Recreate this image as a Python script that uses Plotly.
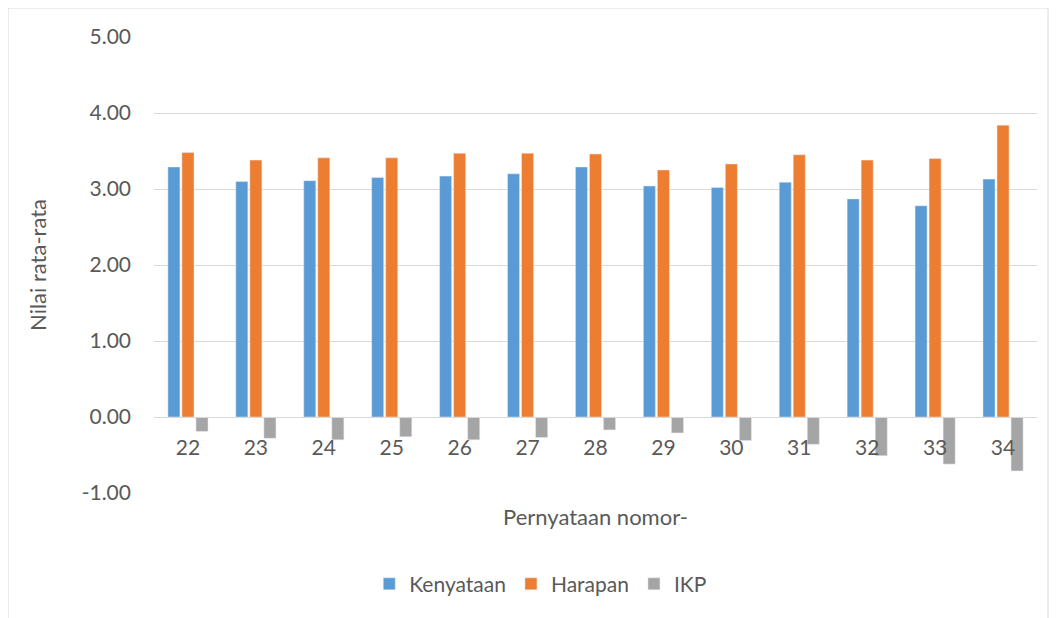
import plotly.graph_objects as go

categories = ["22", "23", "24", "25", "26", "27", "28", "29", "30", "31", "32", "33", "34"]
kenyataan = [3.29, 3.10, 3.11, 3.15, 3.17, 3.20, 3.29, 3.04, 3.02, 3.09, 2.87, 2.78, 3.13]
harapan = [3.48, 3.38, 3.41, 3.41, 3.47, 3.47, 3.46, 3.25, 3.33, 3.45, 3.38, 3.40, 3.84]
ikp = [-0.19, -0.28, -0.30, -0.26, -0.30, -0.27, -0.17, -0.21, -0.31, -0.36, -0.51, -0.62, -0.71]
y_ticks = [-1, 0, 1, 2, 3, 4, 5]
y_tick_labels = ["-1.00", "0.00", "1.00", "2.00", "3.00", "4.00", "5.00"]

FONT = "Lato"
TXT = "#595959"

fig = go.Figure()
fig.add_trace(go.Bar(name="Kenyataan", x=categories, y=kenyataan, marker_color="#5B9BD5"))
fig.add_trace(go.Bar(name="Harapan", x=categories, y=harapan, marker_color="#ED7D31"))
fig.add_trace(go.Bar(name="IKP", x=categories, y=ikp, marker_color="#A5A5A5"))

fig.update_layout(
    width=1059, height=618,
    margin=dict(l=146, r=30, t=29, b=133),
    paper_bgcolor="white", plot_bgcolor="white",
    barmode="group", bargap=0.38, bargroupgap=0.14,
    font=dict(family=FONT, color=TXT, size=21),
    showlegend=True,
    legend=dict(orientation="h", x=0.438, xanchor="center", y=-0.155, yanchor="top",
                font=dict(size=21, color=TXT), itemwidth=30),
    xaxis=dict(
        type="category", anchor="free", position=1/6,
        showline=True, linecolor="#D9D9D9", linewidth=1,
        ticks="", showgrid=False, automargin=False,
        tickfont=dict(size=21, color=TXT), ticklabelstandoff=12,
        title=dict(text="Pernyataan nomor-", font=dict(size=22, color=TXT), standoff=51),
    ),
    yaxis=dict(
        range=[-1, 5], tickvals=y_ticks, ticktext=y_tick_labels,
        showgrid=True, gridcolor="#D9D9D9", gridwidth=1,
        zeroline=False, showline=False, ticks="", automargin=False,
        tickfont=dict(size=21, color=TXT), ticklabelstandoff=22,
        title=dict(text="Nilai rata-rata", font=dict(size=22, color=TXT), standoff=28),
    ),
    shapes=[dict(type="rect", xref="paper", yref="paper",
                 x0=-0.1653, x1=1.0125, y0=-0.3, y1=1.0636,
                 line=dict(color="#D9D9D9", width=1), layer="below")],
)

fig.write_html("out.html")
